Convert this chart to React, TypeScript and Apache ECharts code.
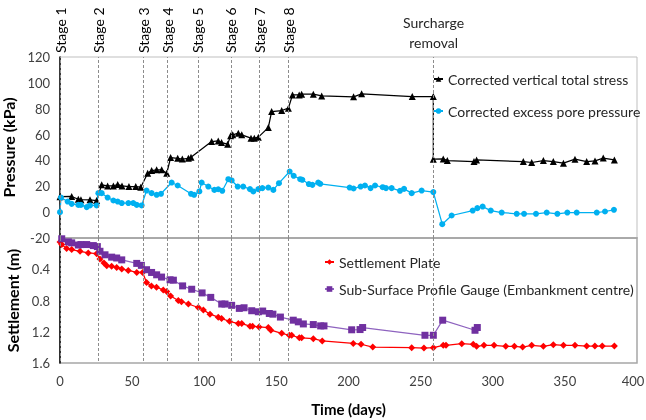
import React, { useEffect, useRef } from "react";
import * as echarts from "echarts";

// ---------- data ----------
const stageNames = ["Stage 1", "Stage 2", "Stage 3", "Stage 4", "Stage 5", "Stage 6", "Stage 7", "Stage 8"];
const stageDays = [0, 26.5, 57.8, 74.6, 95.5, 118.5, 138.2, 158.3];
const surchargeText = "Surcharge\nremoval";
const surchargeDay = 259;

const stressName = "Corrected vertical total stress";
const stressDays = [0, 8.1, 12.7, 14.5, 20.8, 25.4, 28.9, 33, 37, 40, 43, 47.8, 52.5, 56, 60.8, 63.5, 67, 70.5, 74, 76.7, 81.6, 84.8, 89, 90.8, 105.1, 109.7, 112, 116.2, 118.3, 119.7, 123.6, 126, 132.4, 134.7, 137.5, 144.4, 146.7, 153.7, 158.3, 161.2, 165.8, 167.5, 175.6, 181.4, 203.5, 209.1, 244.2, 258.8, 258.8, 265.7, 268.5, 287, 288.8, 321.2, 327, 335.1, 342, 349, 357, 365.1, 370.9, 376.6, 384.3];
const stressKPa = [12, 12.1, 10, 9.6, 9.5, 9, 21.1, 20.3, 20.3, 21.4, 20.3, 19.8, 19.8, 19.3, 30.1, 32.2, 32.7, 32.7, 30.1, 42.2, 41.6, 41.1, 41.6, 42.4, 54.6, 55.1, 53.8, 52.6, 59, 59.8, 61.1, 59.8, 57.2, 57.2, 58, 65.4, 77.8, 78.6, 80.4, 90.7, 90.7, 91.2, 91.2, 89.9, 89.2, 91.5, 89.4, 89.4, 41, 41.2, 39.9, 39.1, 40.4, 39.1, 38.4, 39.9, 39.1, 37.9, 41, 39.1, 39.6, 41.8, 40.4];

const poreName = "Corrected excess pore pressure";
const poreDays = [0, 0.7, 5.3, 8.1, 12.7, 14.5, 18.5, 20.8, 25.4, 26.6, 28.9, 33, 37, 40, 42.8, 47.4, 50.8, 53.2, 56.6, 60, 63.5, 67, 70, 77.4, 81.6, 90.8, 93, 96.6, 98.2, 102.8, 107, 109.7, 112.5, 116.7, 119, 123.2, 127, 131.7, 134, 137.5, 140.3, 144.4, 147.9, 151.8, 159.2, 162, 166.5, 168, 172.5, 175, 179, 180.4, 200.8, 203.5, 208.4, 211.4, 215.3, 218.4, 223.7, 226, 229.9, 235.7, 238.5, 243.8, 250.7, 258.8, 265, 271.5, 286.1, 289.3, 293, 298.6, 306.2, 316.6, 321.7, 330, 337.4, 344.8, 351.7, 358.2, 372.1, 377.8, 384];
const poreKPa = [0, 11.3, 8.2, 6.4, 5.6, 5.6, 3.9, 5.2, 5.2, 14.7, 14.7, 11.3, 9, 8.2, 7, 7, 7, 5.6, 5.2, 16.7, 14.7, 13.4, 14.2, 22.9, 20.6, 14.2, 13.4, 16, 22.9, 19.8, 17.2, 17.7, 16.5, 25.5, 24.5, 19.8, 19.8, 17.8, 16, 17.8, 18.6, 19, 17.2, 22.4, 31.4, 28.1, 25.5, 25, 21.7, 21.1, 22.9, 21.9, 19, 18.3, 19.8, 20.6, 18.6, 20.6, 19.3, 18.6, 18.6, 16.5, 18, 14.7, 16.7, 15.5, -9.3, -2.6, 1.2, 3.1, 4.3, 1.2, -0.3, -1.3, -1.3, -1.3, -0.3, -1.3, -0.3, -0.3, -0.3, 0.5, 1.8];

const plateName = "Settlement Plate";
const plateDays = [0, 1.2, 4.6, 8.1, 13.9, 19.6, 25.4, 27.7, 30.5, 32.4, 35.8, 39.3, 42.8, 47.3, 53.2, 57.3, 60, 63.4, 66.9, 71.6, 74, 76.7, 82, 84.2, 89, 95.9, 99.4, 104, 109.7, 112, 117.5, 123.6, 126, 131.7, 133.5, 138, 144.4, 146.2, 153.7, 159, 160.6, 165.9, 167.5, 175.6, 181.8, 203.3, 208.7, 216.8, 243.8, 252.3, 258.8, 265.7, 267.6, 278.5, 286.5, 288.8, 293.9, 300.9, 309, 315, 320.7, 327, 335.1, 342, 349, 357, 365.1, 370.8, 375.9, 384.3];
const plateM = [0.05, 0.084, 0.135, 0.148, 0.17, 0.191, 0.2, 0.269, 0.32, 0.355, 0.36, 0.376, 0.398, 0.415, 0.441, 0.441, 0.57, 0.613, 0.63, 0.665, 0.686, 0.742, 0.8, 0.815, 0.845, 0.89, 0.92, 0.975, 1.013, 1.03, 1.067, 1.095, 1.095, 1.129, 1.129, 1.138, 1.146, 1.18, 1.22, 1.245, 1.245, 1.278, 1.278, 1.288, 1.318, 1.35, 1.36, 1.396, 1.404, 1.409, 1.404, 1.374, 1.374, 1.352, 1.361, 1.387, 1.374, 1.374, 1.387, 1.387, 1.396, 1.374, 1.387, 1.365, 1.374, 1.374, 1.383, 1.383, 1.383, 1.383];

const gaugeName = "Sub-Surface Profile Gauge (Embankment centre)";
const gaugeDays = [1.2, 5.8, 8.1, 12.7, 14.5, 18.5, 23.1, 25.9, 27.7, 31.2, 35.8, 39.3, 42.8, 53.2, 56.4, 60, 63.5, 67, 70.4, 76.3, 78.6, 85, 91.3, 98.5, 104.5, 112.1, 114.4, 119, 124.3, 127.6, 132.9, 137.5, 140.5, 145.1, 147.6, 152.8, 161.7, 165.2, 168.7, 175.6, 180.7, 183, 202.2, 208, 209.8, 253, 258.8, 265.3, 287.7, 289.3];
const gaugeM = [0.01, 0.05, 0.062, 0.09, 0.084, 0.084, 0.097, 0.11, 0.17, 0.215, 0.245, 0.256, 0.28, 0.325, 0.35, 0.406, 0.441, 0.471, 0.5, 0.535, 0.54, 0.613, 0.656, 0.703, 0.76, 0.845, 0.845, 0.862, 0.901, 0.893, 0.931, 0.944, 0.935, 0.966, 0.975, 1.012, 1.052, 1.073, 1.1, 1.108, 1.125, 1.125, 1.175, 1.172, 1.146, 1.245, 1.245, 1.052, 1.181, 1.146];

// axis settings
const dayMin = 0, dayMax = 400, dayStep = 50;
const pressMin = -20, pressMax = 120, pressStep = 20;
const settleMin = 0, settleMax = 1.6, settleStep = 0.4;

const FONT = 'Lato, "Noto Sans", sans-serif';
const GRID_LEFT = 60, GRID_W = 577, TOP1 = 57, H1 = 181, TOP2 = 238, H2 = 125;

const zip = (xs: number[], ys: number[]) => xs.map((x, i) => [x, ys[i]]);

export default function App() {
  const ref = useRef<HTMLDivElement>(null);
  useEffect(() => {
    const chart = echarts.init(ref.current!, null, { renderer: "svg" });
    const markLine = {
      silent: true,
      symbol: ["none", "none"],
      label: { show: false },
      lineStyle: { type: [3, 2], color: "#8c8c8c", width: 1 },
      data: [...stageDays, surchargeDay].map((d) => ({ xAxis: d })),
    };
    const axisLabel = { fontSize: 13, color: "#404040", fontFamily: FONT };
    const option: any = {
      animation: false,
      textStyle: { fontFamily: FONT },
      grid: [
        { left: GRID_LEFT, top: TOP1, width: GRID_W, height: H1, show: true, borderColor: "#BFBFBF", borderWidth: 1, containLabel: false, outerBoundsMode: "none" },
        { left: GRID_LEFT, top: TOP2, width: GRID_W, height: H2, show: true, borderColor: "#A6A6A6", borderWidth: 1.5, containLabel: false, outerBoundsMode: "none" },
      ],
      legend: [
        {
          data: [stressName, poreName], orient: "vertical", left: 428, top: 67,
          itemWidth: 9, itemHeight: 7, itemGap: 18,
          textStyle: { fontSize: 14, color: "#262626", fontFamily: FONT },
        },
        {
          data: [plateName, gaugeName], orient: "vertical", left: 319, top: 250,
          itemWidth: 9, itemHeight: 7, itemGap: 13,
          textStyle: { fontSize: 14, color: "#262626", fontFamily: FONT },
        },
      ],
      xAxis: [
        {
          gridIndex: 0, type: "value", min: dayMin, max: dayMax, interval: dayStep,
          axisLabel: { show: false }, axisLine: { show: false }, axisTick: { show: false }, splitLine: { show: false },
        },
        {
          gridIndex: 1, type: "value", min: dayMin, max: dayMax, interval: dayStep,
          axisLabel: {
            ...axisLabel, margin: 11,
            formatter: (v: number) => (v === dayMax ? `{last|${v}}` : String(v)),
            rich: { last: { fontSize: 13, color: "#404040", fontFamily: FONT, padding: [0, 8, 0, 0] } },
          },
          axisLine: { show: true, lineStyle: { color: "#A6A6A6", width: 1.5 } },
          axisTick: { show: false }, splitLine: { show: false },
          name: "Time (days)", nameLocation: "middle", nameGap: 38,
          nameTextStyle: { fontSize: 15, fontWeight: "bold", color: "#000", fontFamily: FONT },
        },
      ],
      yAxis: [
        {
          gridIndex: 0, type: "value", min: pressMin, max: pressMax, interval: pressStep,
          axisLabel: { ...axisLabel, margin: 10 },
          axisLine: { show: true, onZero: false, lineStyle: { color: "#000", width: 1.5 } },
          axisTick: { show: false }, splitLine: { show: false },
          name: "Pressure (kPa)", nameLocation: "middle", nameGap: 34, nameRotate: 90,
          nameTextStyle: { fontSize: 16, fontWeight: "bold", color: "#000", fontFamily: FONT },
        },
        {
          gridIndex: 1, type: "value", inverse: true, min: settleMin, max: settleMax, interval: settleStep,
          axisLabel: { ...axisLabel, margin: 10, formatter: (v: number) => (v === 0 ? "" : String(Math.round(v * 10) / 10)) },
          axisLine: { show: true, onZero: false, lineStyle: { color: "#000", width: 1.5 } },
          axisTick: { show: false }, splitLine: { show: false },
          name: "Settlement (m)", nameLocation: "middle", nameGap: 34, nameRotate: 90,
          nameTextStyle: { fontSize: 16, fontWeight: "bold", color: "#000", fontFamily: FONT },
        },
      ],
      series: [
        {
          name: stressName, type: "line", xAxisIndex: 0, yAxisIndex: 0, data: zip(stressDays, stressKPa),
          symbol: "triangle", symbolSize: 7, lineStyle: { color: "#000", width: 1.25 },
          itemStyle: { color: "#000" }, markLine, z: 3,
        },
        {
          name: poreName, type: "line", xAxisIndex: 0, yAxisIndex: 0, data: zip(poreDays, poreKPa),
          symbol: "circle", symbolSize: 6, lineStyle: { color: "#00B0F0", width: 1.25 },
          itemStyle: { color: "#00B0F0" }, z: 3,
        },
        {
          name: plateName, type: "line", xAxisIndex: 1, yAxisIndex: 1, data: zip(plateDays, plateM),
          symbol: "diamond", symbolSize: 7, lineStyle: { color: "#FF0000", width: 1.25 },
          itemStyle: { color: "#FF0000" }, markLine, z: 3,
        },
        {
          name: gaugeName, type: "line", xAxisIndex: 1, yAxisIndex: 1, data: zip(gaugeDays, gaugeM),
          symbol: "rect", symbolSize: 7, lineStyle: { color: "#8E63BF", width: 1.25 },
          itemStyle: { color: "#7030A0" }, z: 3,
        },
      ],
    };
    chart.setOption(option);
    const graphic: any[] = stageNames.map((name, i) => {
      const px = chart.convertToPixel({ xAxisIndex: 0 }, stageDays[i]) as number;
      return {
        type: "text", x: px, y: TOP1 - 4, rotation: Math.PI / 2,
        style: { text: name, fontSize: 14, fill: "#000", align: "left", verticalAlign: "middle", fontFamily: FONT },
      };
    });
    const sx = chart.convertToPixel({ xAxisIndex: 0 }, surchargeDay) as number;
    graphic.push({
      type: "text", x: sx, y: TOP1 - 5,
      style: { text: surchargeText, fontSize: 14, lineHeight: 20, fill: "#262626", align: "center", verticalAlign: "bottom", fontFamily: FONT },
    });
    chart.setOption({ graphic });
    return () => chart.dispose();
  }, []);
  return <div ref={ref} style={{ position: "fixed", left: 0, top: 0, width: 646, height: 420 }} />;
}
